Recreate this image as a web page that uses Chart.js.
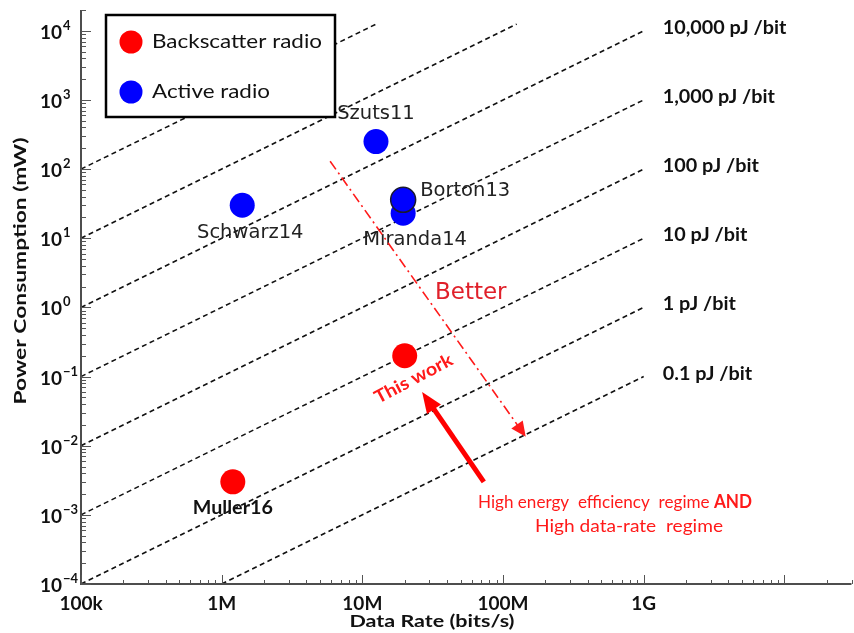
<!DOCTYPE html>
<html><head><meta charset="utf-8">
<script src="https://cdn.jsdelivr.net/npm/chart.js@4.4.1/dist/chart.umd.min.js"></script>
<style>html,body{margin:0;padding:0;background:#fff}#wrap{width:854px;height:633px}</style>
</head><body><div id="wrap"><canvas id="c" width="854" height="633"></canvas></div>
<script>
// ---- data ----
const backscatterNames = ['Muller16', 'This work'];
const backscatterRate  = [1.2e6, 2.0e7];       // bits/s
const backscatterPower = [3.0e-3, 0.2];        // mW
const activeNames = ['Schwarz14', 'Szuts11', 'Miranda14', 'Borton13'];
const activeRate  = [1.4e6, 1.25e7, 1.95e7, 1.95e7];
const activePower = [30, 250, 23, 36];
const energyPJ     = [0.1, 1, 10, 100, 1000, 10000, 100000, 1000000]; // pJ/bit iso-lines
const energyLabels = ['0.1 pJ /bit', '1 pJ /bit', '10 pJ /bit', '100 pJ /bit', '1,000 pJ /bit', '10,000 pJ /bit', '', ''];
const lineStartRate = [1e6, 1e5, 1e5, 1e5, 1e5, 1e5, 1e5, 1e5];
const lineEndRate   = [1e9, 1e9, 1e9, 1e9, 1e9, 1e9, 1.25e8, 1.25e7];
const xTickValues = [1e5, 1e6, 1e7, 1e8, 1e9];
const xTickLabels = ['100k', '1M', '10M', '100M', '1G'];
const yTickExponents = [-4, -3, -2, -1, 0, 1, 2, 3, 4];
const legendLabels = ['Backscatter radio', 'Active radio'];

// power (mW) = E(pJ/bit) * rate(bit/s) * 1e-12 J * 1e3
function powerOf(e, r) { return e * r * 1e-9; }

const lineDatasets = energyPJ.map((e, i) => ({
  type: 'scatter', showLine: true, order: 10,
  data: [{x: lineStartRate[i], y: powerOf(e, lineStartRate[i])}, {x: lineEndRate[i], y: powerOf(e, lineEndRate[i])}],
  borderColor: '#111', borderWidth: 1.6, borderDash: [5, 3.5], pointRadius: 0, fill: false
}));

const backscatterDS = {
  label: legendLabels[0], order: 1,
  data: backscatterRate.map((r, i) => ({x: r, y: backscatterPower[i]})),
  backgroundColor: '#ff0000', borderColor: '#ff0000', borderWidth: 0, pointRadius: 12.5
};
const activeDS = {
  label: legendLabels[1], order: 1,
  data: activeRate.map((r, i) => ({x: r, y: activePower[i]})),
  backgroundColor: '#0000ff',
  borderColor: ['#0000ff', '#0000ff', '#0000ff', '#1a1a2e'],
  borderWidth: [0, 0, 0, 1.5], pointRadius: 12.5
};

function arrowHead(ctx, x1, y1, x2, y2, len, wid, color) {
  const a = Math.atan2(y2 - y1, x2 - x1);
  ctx.save();
  ctx.translate(x2, y2); ctx.rotate(a);
  ctx.beginPath(); ctx.moveTo(0, 0); ctx.lineTo(-len, wid / 2); ctx.lineTo(-len, -wid / 2); ctx.closePath();
  ctx.fillStyle = color; ctx.fill();
  ctx.restore();
}
// draw text stretched horizontally so it spans a given width
function fitText(ctx, text, x, y, width, align) {
  const w0 = ctx.measureText(text).width;
  const k = width / w0;
  let sx = x;
  if (align === 'center') sx = x - width / 2; else if (align === 'right') sx = x - width;
  ctx.save();
  ctx.translate(sx, y); ctx.scale(k, 1);
  ctx.textAlign = 'left';
  ctx.fillText(text, 0, 0);
  ctx.restore();
}

const decor = {
  id: 'decor',
  afterDatasetsDraw(chart) {
    const ctx = chart.ctx, xs = chart.scales.x, ys = chart.scales.y, ca = chart.chartArea;
    const px = v => xs.getPixelForValue(v), py = v => ys.getPixelForValue(v);
    ctx.save();
    // axes
    ctx.strokeStyle = '#4d4d4d'; ctx.lineWidth = 2;
    ctx.beginPath(); ctx.moveTo(ca.left, ca.top); ctx.lineTo(ca.left, ca.bottom); ctx.lineTo(ca.right, ca.bottom); ctx.stroke();
    ctx.lineWidth = 1; ctx.strokeStyle = '#555';
    // x ticks (inward)
    for (let d = 5; d <= 10; d++) {
      for (let m = 1; m <= 9; m++) {
        const v = m * Math.pow(10, d);
        if (v < xs.min || v > xs.max) continue;
        const x = Math.round(px(v)) + 0.5, L = m === 1 ? 9 : 4;
        ctx.beginPath(); ctx.moveTo(x, ca.bottom); ctx.lineTo(x, ca.bottom - L); ctx.stroke();
      }
    }
    // y ticks (inward)
    for (let d = -4; d <= 4; d++) {
      for (let m = 1; m <= 9; m++) {
        const v = m * Math.pow(10, d);
        if (v < ys.min * 0.999 || v > ys.max * 1.001) continue;
        const y = Math.round(py(v)) + 0.5, L = m === 1 ? 10 : 5;
        ctx.beginPath(); ctx.moveTo(ca.left, y); ctx.lineTo(ca.left + L, y); ctx.stroke();
      }
    }
    // y tick labels 10^n
    ctx.fillStyle = '#111';
    yTickExponents.forEach(n => {
      const y = py(Math.pow(10, n));
      ctx.font = 'bold 19px Lato'; ctx.textAlign = 'right'; ctx.textBaseline = 'alphabetic';
      ctx.fillText('10', 62, y + 8);
      ctx.font = 'bold 13px Lato'; ctx.textAlign = 'left';
      ctx.fillText(n < 0 ? '\u2212' + (-n) : String(n), 63, y - 1);
    });
    // x tick labels
    ctx.font = 'bold 19px Lato'; ctx.textAlign = 'center'; ctx.textBaseline = 'alphabetic';
    xTickValues.forEach((v, i) => ctx.fillText(xTickLabels[i], px(v), 610));
    // axis titles
    ctx.font = 'bold 17px Lato';
    fitText(ctx, 'Data Rate (bits/s)', 432, 627, 165, 'center');
    ctx.save(); ctx.translate(26, 271); ctx.rotate(-Math.PI / 2);
    fitText(ctx, 'Power Consumption (mW)', 0, 0, 267, 'center'); ctx.restore();

    // energy labels
    ctx.font = 'bold 18.5px Lato'; ctx.textBaseline = 'middle'; ctx.fillStyle = '#111';
    energyPJ.forEach((e, i) => {
      if (!energyLabels[i]) return;
      const w = ctx.measureText(energyLabels[i]).width * 1.07;
      fitText(ctx, energyLabels[i], px(lineEndRate[i]) + 19, py(powerOf(e, lineEndRate[i])) - 3, w, 'left');
    });

    // point labels
    ctx.fillStyle = '#222'; ctx.font = '19.5px "DejaVu Sans"'; ctx.textBaseline = 'middle';
    const lab = (txt, r, p, dx, dy, align) => { ctx.textAlign = align; ctx.fillText(txt, px(r) + dx, py(p) + dy); };
    lab(activeNames[0], activeRate[0], activePower[0], 8, 28, 'center');
    lab(activeNames[1], activeRate[1], activePower[1], 0, -28, 'center');
    lab(activeNames[2], activeRate[2], activePower[2], 12, 27, 'center');
    lab(activeNames[3], activeRate[3], activePower[3], 17, -9, 'left');
    ctx.font = 'bold 18px Lato'; ctx.fillStyle = '#111';
    fitText(ctx, backscatterNames[0], px(backscatterRate[0]), py(backscatterPower[0]) + 26, 80, 'center');
    // This work (rotated, red)
    ctx.save();
    ctx.translate(px(backscatterRate[1]) + 9, py(backscatterPower[1]) + 23);
    ctx.rotate(-28 * Math.PI / 180);
    ctx.font = 'bold 18px Lato'; ctx.fillStyle = '#ff1a1a';
    fitText(ctx, backscatterNames[1], 0, 0, 86, 'center');
    ctx.restore();

    // "Better" dash-dot arrow
    const bx1 = px(5.9e6), by1 = py(130), bx2 = px(1.45e8), by2 = py(0.0135);
    ctx.strokeStyle = '#ff1a1a'; ctx.lineWidth = 1.6; ctx.setLineDash([10, 4, 2, 4]);
    ctx.beginPath(); ctx.moveTo(bx1, by1); ctx.lineTo(bx2 - (bx2 - bx1) * 0.04, by2 - (by2 - by1) * 0.04); ctx.stroke();
    ctx.setLineDash([]);
    arrowHead(ctx, bx1, by1, bx2, by2, 15, 14, '#ff1a1a');
    ctx.font = '23px "DejaVu Sans"'; ctx.fillStyle = '#e0202a'; ctx.textAlign = 'center'; ctx.textBaseline = 'middle';
    ctx.fillText('Better', px(5.9e7), py(1.64));

    // solid thick arrow
    const ax1 = px(7.3e7), ay1 = py(0.003), ax2 = px(2.66e7), ay2 = py(0.06);
    const ang = Math.atan2(ay2 - ay1, ax2 - ax1);
    ctx.strokeStyle = '#ff0000'; ctx.lineWidth = 5;
    ctx.beginPath(); ctx.moveTo(ax1, ay1); ctx.lineTo(ax2 - 16 * Math.cos(ang), ay2 - 16 * Math.sin(ang)); ctx.stroke();
    arrowHead(ctx, ax1, ay1, ax2, ay2, 21, 17, '#ff0000');

    // regime text
    ctx.fillStyle = '#ff1a1a'; ctx.textBaseline = 'alphabetic';
    const t1 = 'High energy  efficiency  regime ';
    ctx.font = '18px Lato';
    const w1 = ctx.measureText(t1).width;
    ctx.font = 'bold 18px Lato'; const w2 = ctx.measureText('AND').width;
    const k1 = 274 / (w1 + w2);
    const sx = 615 - 274 / 2;
    ctx.font = '18px Lato'; fitText(ctx, t1, sx, 508, w1 * k1, 'left');
    ctx.font = 'bold 18px Lato'; fitText(ctx, 'AND', sx + w1 * k1, 508, w2 * k1, 'left');
    ctx.font = '18px Lato';
    fitText(ctx, 'High data-rate  regime', 629, 532, 188, 'center');

    // legend
    ctx.fillStyle = '#fff'; ctx.fillRect(106, 15, 229, 102);
    ctx.strokeStyle = '#000'; ctx.lineWidth = 2.5; ctx.strokeRect(106, 15, 229, 102);
    const lc = ['#ff0000', '#0000ff'], ly = [42, 92], lw = [170, 118];
    legendLabels.forEach((t, i) => {
      ctx.beginPath(); ctx.arc(131, ly[i], 11.5, 0, Math.PI * 2); ctx.fillStyle = lc[i]; ctx.fill();
      ctx.fillStyle = '#111'; ctx.font = '19px Lato'; ctx.textBaseline = 'middle';
      fitText(ctx, t, 152, ly[i], lw[i], 'left');
    });
    ctx.restore();
  }
};

new Chart(document.getElementById('c'), {
  type: 'scatter',
  data: { datasets: [...lineDatasets, backscatterDS, activeDS] },
  options: {
    responsive: false, animation: false, devicePixelRatio: 1,
    layout: { autoPadding: false, padding: { left: 81, right: 2.5, top: 10, bottom: 49 } },
    plugins: { legend: { display: false }, tooltip: { enabled: false } },
    scales: {
      x: { type: 'logarithmic', min: 1e5, max: 3e10, display: false },
      y: { type: 'logarithmic', min: 1e-4, max: 2e4, display: false }
    }
  },
  plugins: [decor]
});
</script></body></html>
